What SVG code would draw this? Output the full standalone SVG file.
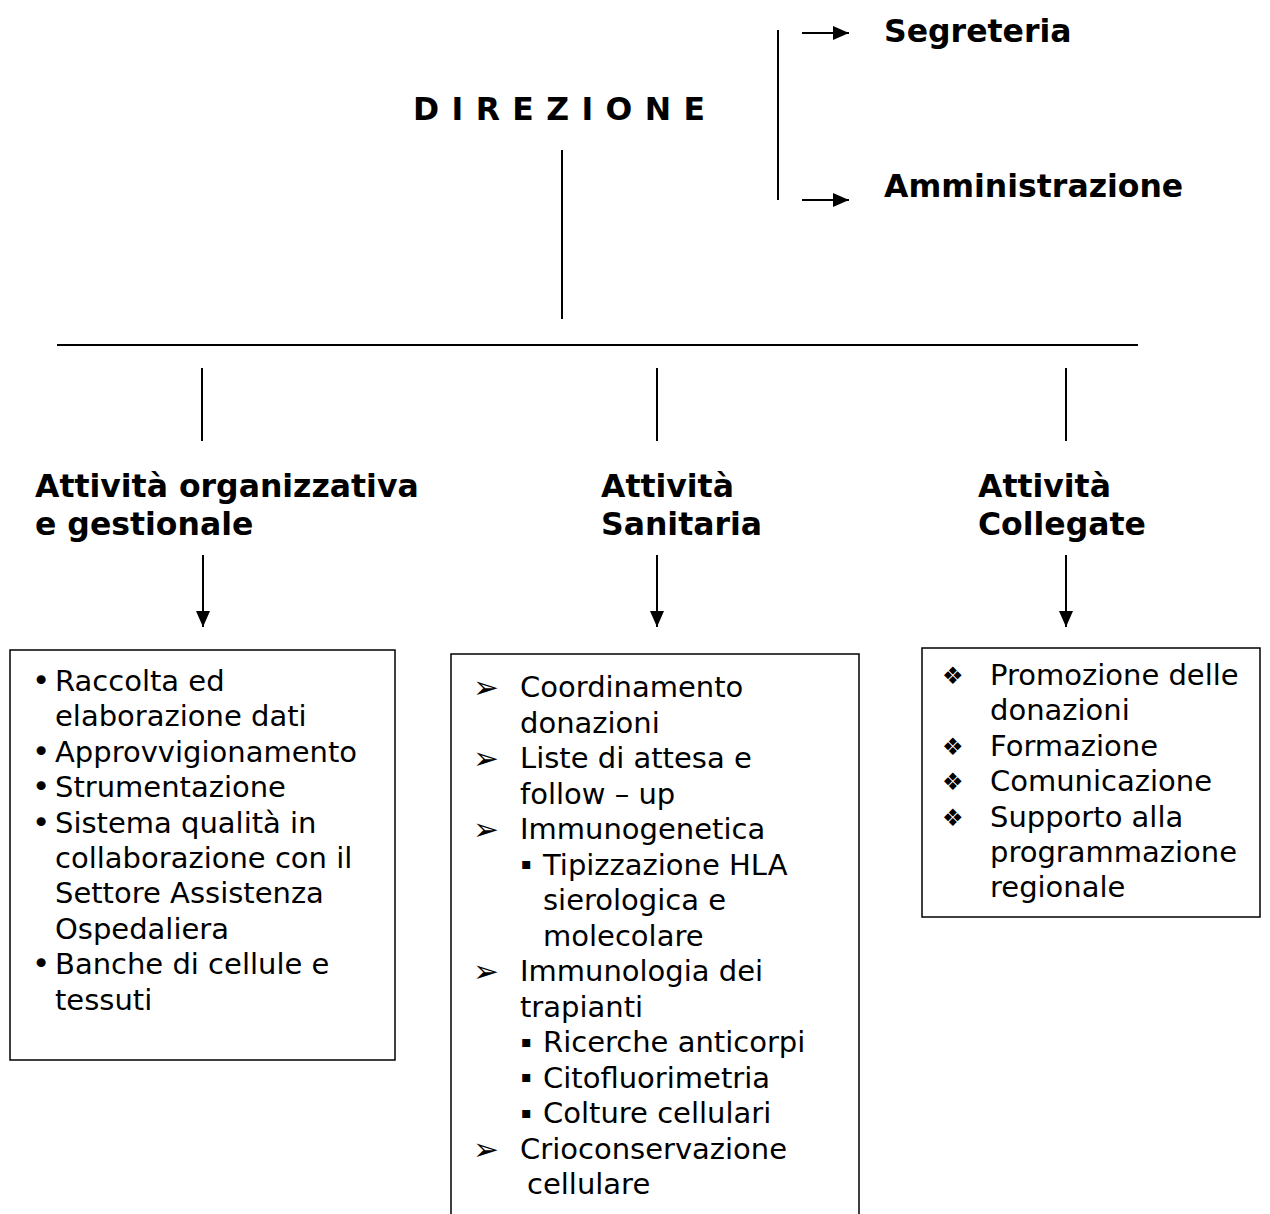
<svg xmlns="http://www.w3.org/2000/svg" width="1270" height="1214" viewBox="0 0 1270 1214">
<style>
  .h { font-family: "DejaVu Sans", Verdana, sans-serif; font-weight: bold; font-size: 31.5px; fill: #000; }
  .t { font-family: "DejaVu Sans", Verdana, sans-serif; font-size: 29px; fill: #000; }
  .b { font-family: "DejaVu Sans", sans-serif; fill: #000; }
  .arr { font-family: "DejaVu Sans", sans-serif; font-size: 31px; fill: #000; }
  .sq { font-family: "DejaVu Sans", sans-serif; font-size: 16px; fill: #000; }
  .ln { stroke: #000; stroke-width: 2; fill: none; }
  .box { stroke: #000; stroke-width: 1.5; fill: #fff; }
</style>
<defs>
  <marker id="ah" markerUnits="userSpaceOnUse" markerWidth="16" markerHeight="14" refX="16" refY="7" orient="auto">
    <path d="M0,0 L16,7 L0,14 z" fill="#000"/>
  </marker>
</defs>
<rect width="1270" height="1214" fill="#fff"/>

<g id="connectors">
  <line class="ln" x1="778" y1="30" x2="778" y2="200"/>
  <line class="ln" x1="802" y1="33" x2="849" y2="33" marker-end="url(#ah)"/>
  <line class="ln" x1="802" y1="200" x2="849" y2="200" marker-end="url(#ah)"/>
  <line class="ln" x1="562" y1="150" x2="562" y2="319"/>
  <line class="ln" x1="57" y1="345" x2="1138" y2="345"/>
  <line class="ln" x1="202" y1="368" x2="202" y2="441"/>
  <line class="ln" x1="657" y1="368" x2="657" y2="441"/>
  <line class="ln" x1="1066" y1="368" x2="1066" y2="441"/>
  <line class="ln" x1="203" y1="555" x2="203" y2="627" marker-end="url(#ah)"/>
  <line class="ln" x1="657" y1="555" x2="657" y2="627" marker-end="url(#ah)"/>
  <line class="ln" x1="1066" y1="555" x2="1066" y2="627" marker-end="url(#ah)"/>
</g>

<g id="direzione">
  <text class="h" x="413" y="120" textLength="292" lengthAdjust="spacing">D I R E Z I O N E</text>
</g>
<g id="segreteria">
  <text class="h" x="884" y="42">Segreteria</text>
</g>
<g id="amministrazione">
  <text class="h" x="884" y="197">Amministrazione</text>
</g>

<g id="attivita-organizzativa">
  <text class="h" x="35" y="497">Attività organizzativa</text>
  <text class="h" x="35" y="535">e gestionale</text>
</g>
<g id="attivita-sanitaria">
  <text class="h" x="601" y="497">Attività</text>
  <text class="h" x="601" y="535">Sanitaria</text>
</g>
<g id="attivita-collegate">
  <text class="h" x="978" y="497">Attività</text>
  <text class="h" x="978" y="535">Collegate</text>
</g>

<g id="box-organizzativa">
  <rect class="box" x="10" y="650" width="385" height="410"/>
  <text class="b" font-size="31" x="32" y="691">•</text>
  <text class="t" x="55" y="691">Raccolta ed</text>
  <text class="t" x="55" y="726.4">elaborazione dati</text>
  <text class="b" font-size="31" x="32" y="761.8">•</text>
  <text class="t" x="55" y="761.8">Approvvigionamento</text>
  <text class="b" font-size="31" x="32" y="797.2">•</text>
  <text class="t" x="55" y="797.2">Strumentazione</text>
  <text class="b" font-size="31" x="32" y="832.6">•</text>
  <text class="t" x="55" y="832.6">Sistema qualità in</text>
  <text class="t" x="55" y="868">collaborazione con il</text>
  <text class="t" x="55" y="903.4">Settore Assistenza</text>
  <text class="t" x="55" y="938.8">Ospedaliera</text>
  <text class="b" font-size="31" x="32" y="974.2">•</text>
  <text class="t" x="55" y="974.2">Banche di cellule e</text>
  <text class="t" x="55" y="1009.6">tessuti</text>
</g>

<g id="box-sanitaria">
  <path class="box" d="M451,1216 L451,654 L859,654 L859,1216"/>
  <text class="arr" x="473" y="698">➢</text>
  <text class="t" x="520" y="697">Coordinamento</text>
  <text class="t" x="520" y="732.5">donazioni</text>
  <text class="arr" x="473" y="769">➢</text>
  <text class="t" x="520" y="768">Liste di attesa e</text>
  <text class="t" x="520" y="803.5">follow – up</text>
  <text class="arr" x="473" y="840">➢</text>
  <text class="t" x="520" y="839">Immunogenetica</text>
  <text class="sq" x="521" y="869">▪</text>
  <text class="t" x="543" y="874.5">Tipizzazione HLA</text>
  <text class="t" x="543" y="910">sierologica e</text>
  <text class="t" x="543" y="945.5">molecolare</text>
  <text class="arr" x="473" y="982">➢</text>
  <text class="t" x="520" y="981">Immunologia dei</text>
  <text class="t" x="520" y="1016.5">trapianti</text>
  <text class="sq" x="521" y="1046.5">▪</text>
  <text class="t" x="543" y="1052">Ricerche anticorpi</text>
  <text class="sq" x="521" y="1082">▪</text>
  <text class="t" x="543" y="1087.5">Citofluorimetria</text>
  <text class="sq" x="521" y="1117.5">▪</text>
  <text class="t" x="543" y="1123">Colture cellulari</text>
  <text class="arr" x="473" y="1159.5">➢</text>
  <text class="t" x="520" y="1158.5">Crioconservazione</text>
  <text class="t" x="527" y="1194">cellulare</text>
</g>

<g id="box-collegate">
  <rect class="box" x="922" y="648" width="338" height="269"/>
  <text class="b" font-size="24" x="942" y="684">❖</text>
  <text class="t" x="990" y="685">Promozione delle</text>
  <text class="t" x="990" y="720.4">donazioni</text>
  <text class="b" font-size="24" x="942" y="755">❖</text>
  <text class="t" x="990" y="755.8">Formazione</text>
  <text class="b" font-size="24" x="942" y="790.4">❖</text>
  <text class="t" x="990" y="791.2">Comunicazione</text>
  <text class="b" font-size="24" x="942" y="825.8">❖</text>
  <text class="t" x="990" y="826.6">Supporto alla</text>
  <text class="t" x="990" y="862">programmazione</text>
  <text class="t" x="990" y="897.4">regionale</text>
</g>
</svg>
